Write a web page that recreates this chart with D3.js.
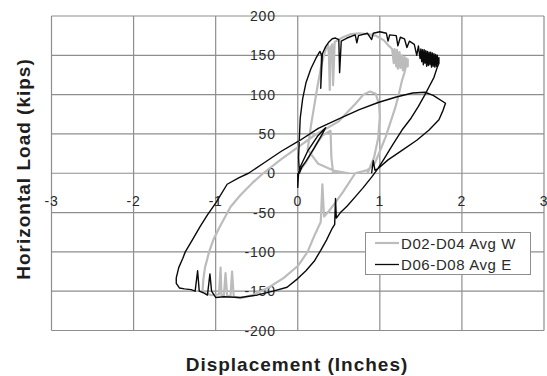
<!DOCTYPE html>
<html>
  <head>
    <meta charset="utf-8">
    <style>
      body { margin: 0; background: #fff; }
      text { font-family: Arial, "Liberation Sans", sans-serif; }
    </style>
  </head>
  <body>
    <script src="https://d3js.org/d3.v7.min.js"></script>
    <script type="text/javascript">

      // tick values of both axes
      var xTicks = [-3, -2, -1, 0, 1, 2, 3];
      var yTicks = [-200, -150, -100, -50, 0, 50, 100, 150, 200];

      // series names
      var seriesNames = ["D02-D04 Avg W", "D06-D08 Avg E"];

      // D02-D04 Avg W, [displacement (in), load (kips)]
      var curveW = [
        [0, 0], [0.1, 14], [0.22, 36], [0.3, 48], [0.4, 54], [0.41, 20], [0.43, 1], [0.62, 0],
        [0.45, 3], [0.25, 12], [0.12, 30], [0.16, 60], [0.2, 85], [0.24, 110], [0.28, 133],
        [0.31, 147], [0.34, 157], [0.37, 163], [0.38, 150], [0.39, 106], [0.4, 160], [0.42, 164],
        [0.43, 112], [0.45, 167], [0.55, 173], [0.65, 177], [0.75, 178], [0.85, 177], [0.95, 175],
        [1.0, 172], [1.05, 169], [1.1, 163], [1.15, 158], [1.17, 140], [1.18, 158], [1.2, 136],
        [1.21, 157], [1.22, 133], [1.24, 154], [1.25, 134], [1.27, 150], [1.28, 131], [1.3, 148],
        [1.31, 133], [1.32, 146], [1.34, 136], [1.34, 145], [1.3, 128], [1.27, 118],
        [1.23, 100], [1.19, 84], [1.13, 65], [1.07, 46], [1.0, 28], [0.94, 13], [0.85, 4],
        [0.7, 0], [0.55, -24], [0.46, -37], [0.38, -48], [0.32, -55], [0.3, -14], [0.28, -62],
        [0.2, -80], [0.12, -100], [0.0, -118], [-0.17, -133], [-0.35, -145], [-0.55, -155],
        [-0.7, -159], [-0.78, -157], [-0.8, -125], [-0.82, -157], [-0.86, -156], [-0.88, -127],
        [-0.9, -156], [-0.93, -155], [-0.94, -120], [-0.96, -154], [-1.05, -155], [-1.12, -153],
        [-1.16, -150], [-1.15, -135], [-1.13, -120], [-1.08, -100], [-1.03, -85], [-0.95, -68],
        [-0.82, -43], [-0.7, -28], [-0.55, -12], [-0.42, 0], [-0.2, 18], [0.0, 33], [0.2, 48],
        [0.5, 66], [0.7, 88], [0.8, 100], [0.88, 104], [0.95, 101], [0.99, 88], [1.0, 72],
        [0.98, 45], [0.93, 20], [0.85, 0]
      ];

      // D06-D08 Avg E, [displacement (in), load (kips)]
      var curveE = [
        [0, 0], [0, -18], [0.01, 0], [0.03, 8], [0.12, 28], [0.24, 47], [0.32, 56], [0.34, 58],
        [0.3, 50], [0.2, 32], [0.1, 15], [0.05, 8], [0.02, 0], [0.01, 20], [0.02, 45], [0.03, 70],
        [0.06, 95], [0.1, 115], [0.16, 133], [0.22, 146], [0.27, 155], [0.29, 150], [0.28, 108],
        [0.3, 152], [0.34, 161], [0.38, 167], [0.42, 171], [0.46, 172], [0.5, 170], [0.51, 128],
        [0.53, 168], [0.6, 172], [0.7, 176], [0.72, 166], [0.74, 175], [0.85, 178], [0.9, 170],
        [0.92, 178], [1.0, 180], [1.08, 178], [1.1, 168], [1.12, 176], [1.2, 175], [1.22, 162],
        [1.25, 173], [1.3, 171], [1.33, 160], [1.36, 168], [1.42, 164], [1.45, 150], [1.47, 162],
        [1.49, 146], [1.5, 158], [1.51, 142], [1.52, 157], [1.53, 138], [1.54, 157], [1.55, 140],
        [1.56, 156], [1.57, 136], [1.58, 155], [1.59, 137], [1.6, 154], [1.61, 138], [1.62, 154],
        [1.63, 135], [1.64, 153], [1.65, 136], [1.66, 152], [1.67, 135], [1.68, 151], [1.69, 136],
        [1.7, 150], [1.71, 138], [1.72, 147], [1.72, 140], [1.7, 135],
        [1.66, 122], [1.6, 110], [1.55, 100], [1.47, 85], [1.38, 70], [1.27, 55], [1.15, 35],
        [1.05, 18], [0.97, 5], [0.9, -5], [0.8, -18], [0.7, -30], [0.6, -42], [0.52, -50],
        [0.47, -57], [0.46, -32], [0.45, -65], [0.42, -70], [0.35, -85], [0.28, -98], [0.2, -112],
        [0.1, -124], [0.0, -134], [-0.13, -145], [-0.3, -150], [-0.5, -155], [-0.7, -158],
        [-0.9, -157], [-1.0, -158], [-1.05, -150], [-1.07, -128], [-1.1, -155], [-1.15, -152],
        [-1.2, -150], [-1.22, -124], [-1.25, -150], [-1.3, -148], [-1.38, -147], [-1.44, -146],
        [-1.48, -140], [-1.48, -133], [-1.45, -120], [-1.4, -108], [-1.37, -100], [-1.28, -84],
        [-1.19, -68], [-1.1, -53], [-1.0, -38], [-0.86, -14], [-0.72, -6], [-0.6, 0], [-0.4, 14],
        [-0.2, 28], [0.03, 42], [0.25, 57], [0.52, 70], [0.75, 81], [0.98, 90], [1.2, 97],
        [1.4, 102], [1.55, 103], [1.65, 99], [1.8, 89], [1.77, 80], [1.72, 68], [1.6, 55],
        [1.45, 42], [1.27, 29], [1.1, 17], [0.98, 6], [0.94, 4], [0.92, 16], [0.9, 0]
      ];

      // chart size (plot box edges in pixels)
      var w = 547;
      var h = 376;
      var plotLeft = 51.5;
      var plotRight = 544;
      var plotTop = 16;
      var plotBottom = 330.5;

      var svg = d3.select("body")
        .append("svg")
        .attr("width", w)
        .attr("height", h);

      var xScale = d3.scaleLinear()
                     .domain([-3, 3])
                     .range([plotLeft, plotRight]);

      var yScale = d3.scaleLinear()
                     .domain([-200, 200])
                     .range([plotBottom, plotTop]);

      // gridlines
      svg.append("g")
         .selectAll("line")
         .data(xTicks)
         .enter()
         .append("line")
         .attr("x1", function(d) { return xScale(d); })
         .attr("x2", function(d) { return xScale(d); })
         .attr("y1", plotTop)
         .attr("y2", plotBottom)
         .attr("stroke", "#8e8e8e")
         .attr("stroke-width", 1.2);

      svg.append("g")
         .selectAll("line")
         .data(yTicks)
         .enter()
         .append("line")
         .attr("x1", plotLeft)
         .attr("x2", plotRight)
         .attr("y1", function(d) { return yScale(d); })
         .attr("y2", function(d) { return yScale(d); })
         .attr("stroke", "#8e8e8e")
         .attr("stroke-width", 1.2);

      // tick labels, the axes cross at zero
      svg.append("g")
         .selectAll("text")
         .data(yTicks)
         .enter()
         .append("text")
         .attr("x", xScale(0) - 22)
         .attr("y", function(d) { return yScale(d) + 5; })
         .attr("text-anchor", "end")
         .attr("font-size", "14px")
         .attr("letter-spacing", "0.8px")
         .attr("fill", "#2a2a2a")
         .text(function(d) { return d; });

      svg.append("g")
         .selectAll("text")
         .data(xTicks)
         .enter()
         .append("text")
         .attr("x", function(d) { return xScale(d); })
         .attr("y", yScale(0) + 33)
         .attr("text-anchor", "middle")
         .attr("font-size", "14px")
         .attr("letter-spacing", "0.8px")
         .attr("fill", "#2a2a2a")
         .text(function(d) { return d; });

      // the two hysteresis curves
      var line = d3.line()
        .x(function(d) { return xScale(d[0]); })
        .y(function(d) { return yScale(d[1]); });

      svg.append("path")
         .datum(curveW)
         .attr("d", line)
         .attr("fill", "none")
         .attr("stroke", "#bcbcbc")
         .attr("stroke-width", 2.2)
         .attr("stroke-linejoin", "round");

      svg.append("path")
         .datum(curveE)
         .attr("d", line)
         .attr("fill", "none")
         .attr("stroke", "#0a0a0a")
         .attr("stroke-width", 1.4)
         .attr("stroke-linejoin", "round");

      // legend
      var legend = svg.append("g");

      legend.append("rect")
            .attr("x", 365.5)
            .attr("y", 232.5)
            .attr("width", 165)
            .attr("height", 42)
            .attr("fill", "#fff")
            .attr("stroke", "#8e8e8e");

      var colors = ["#bcbcbc", "#0a0a0a"];
      var widths = [2.2, 1.3];

      seriesNames.forEach(function(name, i) {
        var ly = 243 + i * 21.5;
        legend.append("line")
              .attr("x1", 375)
              .attr("x2", 399)
              .attr("y1", ly)
              .attr("y2", ly)
              .attr("stroke", colors[i])
              .attr("stroke-width", widths[i]);
        legend.append("text")
              .attr("x", 401)
              .attr("y", ly + 5.5)
              .attr("font-size", "15px")
              .attr("letter-spacing", "0.6px")
              .attr("fill", "#2a2a2a")
              .text(name);
      });

      // axis titles
      svg.append("text")
         .attr("x", 297)
         .attr("y", 371)
         .attr("text-anchor", "middle")
         .attr("font-size", "19px")
         .attr("font-weight", "bold")
         .attr("letter-spacing", "1px")
         .attr("fill", "#1e1e1e")
         .text("Displacement (Inches)");

      svg.append("text")
         .attr("transform", "translate(30, 169) rotate(-90)")
         .attr("text-anchor", "middle")
         .attr("font-size", "19px")
         .attr("font-weight", "bold")
         .attr("letter-spacing", "1px")
         .attr("fill", "#1e1e1e")
         .text("Horizontal Load (kips)");

    </script>
  </body>
</html>
